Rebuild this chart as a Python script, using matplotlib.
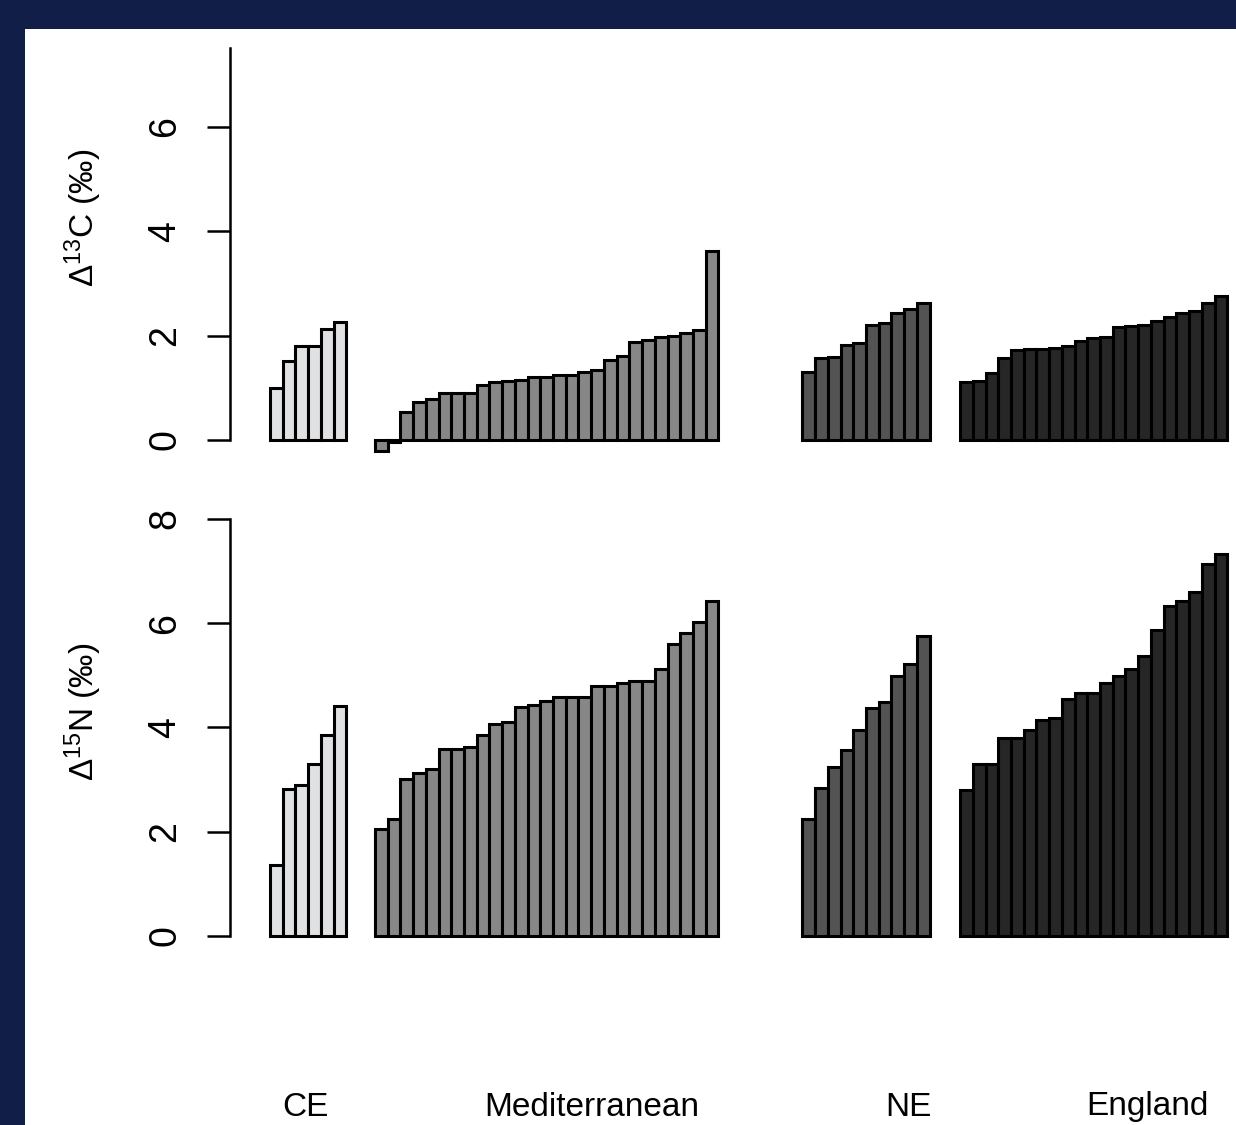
#!/usr/bin/env python3
"""Ranked isotope offsets by region, two stacked bar panels."""

import matplotlib
matplotlib.use('Agg')
import matplotlib.pyplot as plt
import matplotlib.transforms as mtransforms
from matplotlib.patches import Rectangle
import numpy as np

plt.rcParams.update({
    'font.family': ['Liberation Sans', 'DejaVu Sans'],
    'mathtext.fontset': 'custom',
    'mathtext.rm': 'Liberation Sans',
    'mathtext.it': 'Liberation Sans:italic',
})

# Data (sorted values per region)
groups = ['CE', 'Mediterranean', 'NE', 'England']
d13c_ce = [0.99, 1.51, 1.79, 1.79, 2.12, 2.26]
d13c_med = [-0.21, -0.04, 0.53, 0.73, 0.78, 0.89, 0.89, 0.89, 1.05, 1.10, 1.12, 1.14, 1.20, 1.20,
            1.25, 1.25, 1.30, 1.33, 1.53, 1.61, 1.88, 1.92, 1.97, 1.99, 2.04, 2.11, 3.61]
d13c_ne = [1.31, 1.57, 1.59, 1.82, 1.85, 2.20, 2.24, 2.44, 2.51, 2.62]
d13c_eng = [1.11, 1.13, 1.28, 1.57, 1.73, 1.74, 1.74, 1.77, 1.80, 1.90, 1.96, 1.98, 2.16, 2.19,
            2.20, 2.27, 2.36, 2.44, 2.47, 2.62, 2.75]

d15n_ce = [1.36, 2.82, 2.90, 3.29, 3.86, 4.42]
d15n_med = [2.05, 2.24, 3.01, 3.13, 3.20, 3.59, 3.59, 3.62, 3.86, 4.06, 4.11, 4.40, 4.44, 4.50,
            4.59, 4.59, 4.59, 4.80, 4.80, 4.85, 4.90, 4.90, 5.12, 5.60, 5.82, 6.02, 6.43]
d15n_ne = [2.24, 2.83, 3.24, 3.56, 3.96, 4.37, 4.48, 4.99, 5.22, 5.76]
d15n_eng = [2.81, 3.30, 3.30, 3.80, 3.80, 3.96, 4.14, 4.19, 4.55, 4.66, 4.66, 4.86, 4.98, 5.12,
            5.37, 5.87, 6.33, 6.43, 6.59, 7.13, 7.32]

top_yticks = [0, 2, 4, 6]
bot_yticks = [0, 2, 4, 6, 8]

# Style
FILLS = ['#e0e1e3', '#878787', '#535353', '#262626']
NAVY = '#111f48'
GAPS = [0, 2.25, 6.6, 2.4]           # empty space (bar widths) before each group
LABEL_X = [2.75, 25.3, 50.2, 69.0]    # group label centres (bar units)

W, H = 1236, 1125
fig = plt.figure(figsize=(W / 100, H / 100), dpi=100, facecolor=NAVY)
fig.patches.append(Rectangle((25 / W, 0), 1 - 25 / W, 1 - 29 / H, transform=fig.transFigure,
                             facecolor='white', edgecolor='none', zorder=-10))

ax1 = fig.add_axes([230 / W, 1 - 455 / H, 1006 / W, 407 / H])
ax2 = fig.add_axes([230 / W, 1 - 945 / H, 1006 / W, 426 / H])


def draw_panel(ax, series, ylim, yticks, spine_top, ylabel, label_y):
    start = 0.0
    for i, vals in enumerate(series):
        start += GAPS[i]
        x = start + np.arange(len(vals))
        ax.bar(x, vals, width=1, align='edge', color=FILLS[i], edgecolor='black', linewidth=2.2)
        start += len(vals)
    ax.set_xlim(-3.145, 75.94)
    ax.set_ylim(*ylim)
    ax.set_facecolor('none')
    for s in ['top', 'right', 'bottom']:
        ax.spines[s].set_visible(False)
    ax.spines['left'].set_linewidth(1.8)
    ax.spines['left'].set_bounds(0, spine_top)
    ax.set_xticks([])
    ax.set_yticks(yticks)
    ax.set_yticklabels([str(t) for t in yticks], rotation=90, va='center', fontsize=27)
    ax.tick_params(axis='y', length=16.5, width=1.8, pad=17)
    fig.text(83 / W, 1 - label_y / H, ylabel, rotation=90, ha='center', va='center', fontsize=24)


draw_panel(ax1, [d13c_ce, d13c_med, d13c_ne, d13c_eng], (-0.29, 7.51), top_yticks, 7.51,
           'Δ$^{13}$C (‰)', 218)
draw_panel(ax2, [d15n_ce, d15n_med, d15n_ne, d15n_eng], (-0.173, 8), bot_yticks, 8,
           'Δ$^{15}$N (‰)', 712)

# Group names under the lower panel
trans = mtransforms.blended_transform_factory(ax2.transData, fig.transFigure)
for name, lx in zip(groups, LABEL_X):
    fig.text(lx, 1 - 1107 / H, name, transform=trans, ha='center', va='center', fontsize=24)

fig.savefig('out.png', dpi=100, facecolor=NAVY)
plt.close()
